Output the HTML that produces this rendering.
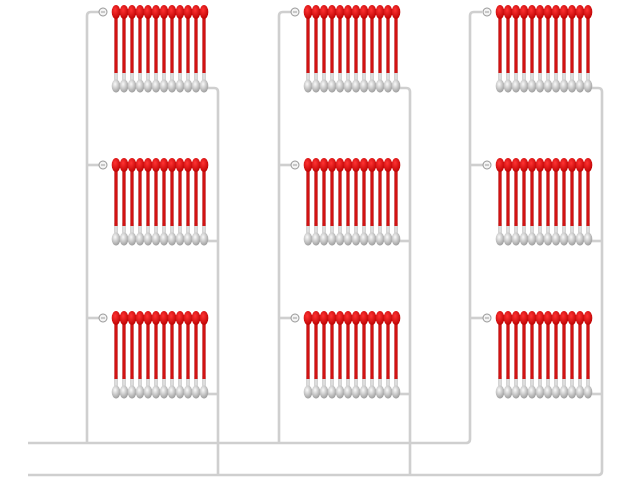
<!DOCTYPE html>
<html><head><meta charset="utf-8">
<style>html,body{margin:0;padding:0;background:#fff;}svg{display:block}</style>
</head><body>
<svg id="s" width="640" height="480" viewBox="0 0 640 480" xmlns="http://www.w3.org/2000/svg">
<defs>
<linearGradient id="red" x1="0" x2="1"><stop offset="0" stop-color="#a00"/><stop offset="0.5" stop-color="#e51a1a"/><stop offset="1" stop-color="#a00"/></linearGradient>
<radialGradient id="redb" cx="0.4" cy="0.35" r="0.7"><stop offset="0" stop-color="#f33"/><stop offset="1" stop-color="#b00"/></radialGradient>
<radialGradient id="grayb" cx="0.4" cy="0.35" r="0.7"><stop offset="0" stop-color="#fafafa"/><stop offset="1" stop-color="#999"/></radialGradient>
<linearGradient id="gray" x1="0" x2="1"><stop offset="0" stop-color="#aaa"/><stop offset="0.5" stop-color="#f2f2f2"/><stop offset="1" stop-color="#aaa"/></linearGradient>
</defs>
<g id="pipes" fill="none" stroke="#cfcfcf" stroke-width="2.6"></g>
<g id="rads"></g>
</svg>
<script>
var P=document.getElementById('pipes'),R=document.getElementById('rads'),ns='http://www.w3.org/2000/svg';
function el(p,t,a){var e=document.createElementNS(ns,t);for(var k in a)e.setAttribute(k,a[k]);p.appendChild(e);return e;}
var cols=[0,192,384],rows=[0,153,306];
el(P,'path',{d:'M28 443 H466 Q470 443 470 439 V16 Q470 12 474 12 H482'});
el(P,'path',{d:'M28 475 H598 Q602 475 602 471 V92 Q602 88 598 88 H592'});
cols.forEach(function(c,ci){
  var lx=87+c, rx=218+c;
  if(ci<2){
    el(P,'path',{d:'M'+lx+' 443 V16 Q'+lx+' 12 '+(lx+4)+' 12 H'+(lx+14)});
    el(P,'path',{d:'M'+rx+' 475 V92 Q'+rx+' 88 '+(rx-4)+' 88 H'+(rx-10)});
  }
  rows.forEach(function(r,ri){
    if(ri>0){
      el(P,'path',{d:'M'+lx+' '+(12+r)+' H'+(lx+14)});
      el(P,'path',{d:'M'+rx+' '+(88+r)+' H'+(rx-10)});
    }
    var g=el(R,'g',{});
    for(var i=0;i<12;i++){
      var x=116+c+8*i;
      el(g,'rect',{x:x-1.6,y:r+70,width:3.2,height:16,fill:'url(#gray)'});
      el(g,'ellipse',{cx:x,cy:r+86,rx:4.3,ry:6.5,fill:'url(#grayb)'});
      el(g,'rect',{x:x-1.6,y:r+14,width:3.2,height:59,fill:'url(#red)'});
    }
    el(g,'rect',{x:112+c,y:r+9,width:96,height:6,fill:'#d41010'});
    for(var i=0;i<12;i++){
      var x=116+c+8*i;
      el(g,'ellipse',{cx:x,cy:r+12,rx:4.3,ry:7,fill:'url(#redb)'});
    }
    el(g,'circle',{cx:103+c,cy:r+12,r:4,fill:'#f4f4f4',stroke:'#999','stroke-width':1});
    el(g,'line',{x1:101+c,y1:r+12,x2:105+c,y2:r+12,stroke:'#888','stroke-width':0.8});
  });
});
</script>
</body></html>
